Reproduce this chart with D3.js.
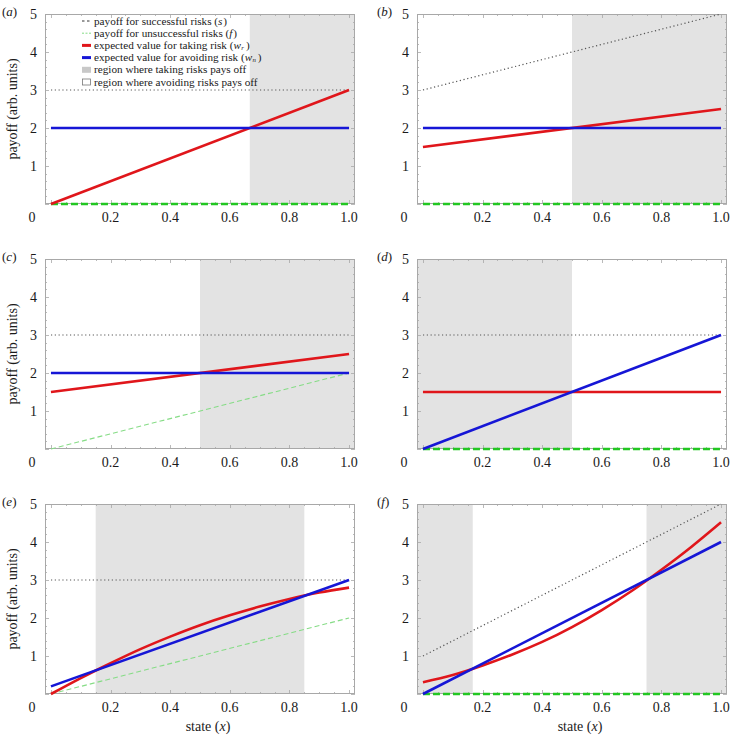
<!DOCTYPE html>
<html><head><meta charset="utf-8">
<script src="https://cdn.jsdelivr.net/npm/d3@7"></script>
<style>body{margin:0;background:#fff}svg{display:block}text{font-family:"Times New Roman","Liberation Serif",Times,serif;fill:#1a1a1a}</style>
</head><body><svg id="c" width="730" height="737"></svg>
<script>
// ---------- data ----------
const panelIds = ["a","b","c","d","e","f"];
const xLine = [0, 1];
const xCurve = [0,0.1,0.2,0.3,0.4,0.5,0.6,0.7,0.8,0.9,1.0];
const xTickLabels = ["0.2","0.4","0.6","0.8","1.0"];
const xTickValues = [0.2,0.4,0.6,0.8,1.0];
const yTickValues = [1,2,3,4,5];

// payoff for successful risks (s), at x = 0 and x = 1
const sA=[3,3], sB=[3,5], sC=[3,3], sD=[3,3], sE=[3,3], sF=[1,5];
// payoff for unsuccessful risks (f)
const fA=[0,0], fB=[0,0], fC=[0,2], fD=[0,0], fE=[0,2], fF=[0,0];
// expected value for avoiding risk (wn)
const wnA=[2,2], wnB=[2,2], wnC=[2,2], wnD=[0,3], wnE=[0.2,3.0], wnF=[0,4];
// expected value for taking risk (wr)
const wrA=[0,3], wrB=[1.5,2.5], wrC=[1.5,2.5], wrD=[1.5,1.5];
const wrE=[0,0.42,0.81,1.18,1.51,1.81,2.07,2.30,2.50,2.67,2.80];
const wrF=[0.31,0.50,0.75,1.04,1.37,1.76,2.21,2.71,3.27,3.87,4.52];
// regions where taking risks pays off
const shadeA=[[0.667, Infinity]];
const shadeB=[[0.5, Infinity]];
const shadeC=[[0.5, Infinity]];
const shadeD=[[-Infinity, 0.5]];
const shadeE=[[0.15, 0.85]];
const shadeF=[[-Infinity, 0.167],[0.75, Infinity]];

const legendItems = [
  {kind:"s", pre:"payoff for successful risks (", it:"s", sub:"", post:")"},
  {kind:"f", pre:"payoff for unsuccessful risks (", it:"f", sub:"", post:")"},
  {kind:"wr", pre:"expected value for taking risk (", it:"w", sub:"r", post:")"},
  {kind:"wn", pre:"expected value for avoiding risk (", it:"w", sub:"n", post:")"},
  {kind:"shade", pre:"region where taking risks pays off", it:"", sub:"", post:""},
  {kind:"empty", pre:"region where avoiding risks pays off", it:"", sub:"", post:""}
];

const panels = [
  {id:"a", s:sA, f:fA, wn:wnA, wrX:xLine, wr:wrA, shade:shadeA},
  {id:"b", s:sB, f:fB, wn:wnB, wrX:xLine, wr:wrB, shade:shadeB},
  {id:"c", s:sC, f:fC, wn:wnC, wrX:xLine, wr:wrC, shade:shadeC},
  {id:"d", s:sD, f:fD, wn:wnD, wrX:xLine, wr:wrD, shade:shadeD},
  {id:"e", s:sE, f:fE, wn:wnE, wrX:xCurve, wr:wrE, shade:shadeE},
  {id:"f", s:sF, f:fF, wn:wnF, wrX:xCurve, wr:wrF, shade:shadeF}
];

// ---------- layout ----------
const W = 310, H = 190;
const colX = [45, 417];
const rowY = [14, 259, 504];
const COL = {s:"#555", fFlat:"#22c722", fSlope:"#86dc86", wr:"#e0161b", wn:"#1616d6", shade:"#e3e3e3", frame:"#a8a8a8"};

const svg = d3.select("#c");

panels.forEach((p, i) => {
  const col = i % 2, row = Math.floor(i / 2);
  const x0 = colX[col], y0 = rowY[row];
  const g = svg.append("g").attr("transform", `translate(${x0},${y0})`);
  const x = d3.scaleLinear().domain([-0.02, 1.02]).range([0, W]);
  const y = d3.scaleLinear().domain([0, 5]).range([H, 0]);
  const [dmin, dmax] = x.domain();

  // shading
  g.selectAll("rect.shade").data(p.shade).join("rect")
    .attr("x", d => x(Math.max(d[0], dmin)))
    .attr("width", d => x(Math.min(d[1], dmax)) - x(Math.max(d[0], dmin)))
    .attr("y", 0).attr("height", H).attr("fill", COL.shade);

  // frame ticks (inward, all sides)
  const tg = g.append("g").attr("stroke", COL.frame).attr("stroke-width", 0.8);
  d3.range(0, 21).forEach(k => {
    const v = k * 0.05, major = (k % 4 === 0);
    const L = major ? 4 : 2;
    const xx = Math.round(x(v)) + 0.5;
    tg.append("line").attr("x1", xx).attr("x2", xx).attr("y1", H).attr("y2", H - L);
    tg.append("line").attr("x1", xx).attr("x2", xx).attr("y1", 0).attr("y2", L);
  });
  d3.range(0, 26).forEach(k => {
    const v = k * 0.2, major = (k % 5 === 0);
    const L = major ? 4 : 2;
    const yy = Math.round(y(v)) + 0.5;
    tg.append("line").attr("x1", 0).attr("x2", L).attr("y1", yy).attr("y2", yy);
    tg.append("line").attr("x1", W).attr("x2", W - L).attr("y1", yy).attr("y2", yy);
  });
  g.append("rect").attr("x", 0.5).attr("y", 0.5).attr("width", W - 1).attr("height", H - 1)
    .attr("fill", "none").attr("stroke", COL.frame).attr("stroke-width", 1);

  const line = d3.line().x(d => x(d[0])).y(d => y(d[1]));
  const curve = d3.line().x(d => x(d[0])).y(d => y(d[1])).curve(d3.curveNatural);

  // s (dotted)
  g.append("path").attr("d", line(xLine.map((v, k) => [v, p.s[k]])))
    .attr("fill", "none").attr("stroke", COL.s).attr("stroke-width", 1.2).attr("stroke-dasharray", "1.2,2.6");
  // f (green dashed)
  const flat = p.f.every(v => v === 0);
  g.append("path").attr("d", line(xLine.map((v, k) => [v, p.f[k]])))
    .attr("fill", "none").attr("stroke", flat ? COL.fFlat : COL.fSlope)
    .attr("stroke-width", flat ? 2.6 : 1.1).attr("stroke-dasharray", flat ? "7,3" : "5,3");
  // wr (red)
  g.append("path").attr("d", (p.wrX.length > 2 ? curve : line)(p.wrX.map((v, k) => [v, p.wr[k]])))
    .attr("fill", "none").attr("stroke", COL.wr).attr("stroke-width", 2.6);
  // wn (blue)
  g.append("path").attr("d", line(xLine.map((v, k) => [v, p.wn[k]])))
    .attr("fill", "none").attr("stroke", COL.wn).attr("stroke-width", 2.6);

  // tick labels
  g.selectAll("text.xt").data(xTickValues).join("text")
    .attr("x", d => x(d)).attr("y", H + 18).attr("text-anchor", "middle")
    .attr("font-size", 14).text((d, k) => xTickLabels[k]);
  g.append("text").attr("x", -13).attr("y", H + 18).attr("text-anchor", "middle").attr("font-size", 14).text("0");
  g.selectAll("text.yt").data(yTickValues).join("text")
    .attr("x", -8).attr("y", d => y(d) + 5).attr("text-anchor", "end")
    .attr("font-size", 14).text(d => d);

  // panel label
  const pl = svg.append("text").attr("x", col === 0 ? 2 : 377).attr("y", y0 + 2).attr("font-size", 13);
  pl.append("tspan").text("(");
  pl.append("tspan").attr("font-style", "italic").text(p.id);
  pl.append("tspan").text(")");

  if (col === 0) {
    svg.append("text").attr("transform", `translate(17,${y0 + H / 2}) rotate(-90)`)
      .attr("text-anchor", "middle").attr("font-size", 14).text("payoff (arb. units)");
  }
  if (row === 2) {
    const t = g.append("text").attr("x", x(0.5) + 8).attr("y", H + 37).attr("text-anchor", "middle").attr("font-size", 14);
    t.append("tspan").text("state (");
    t.append("tspan").attr("font-style", "italic").text("x");
    t.append("tspan").text(")");
  }

  // legend (panel a)
  if (p.id === "a") {
    const lg = g.append("g").attr("transform", "translate(37,7)");
    legendItems.forEach((it, k) => {
      const yy = k * 12.2;
      const sx = 0, ex = 9;
      if (it.kind === "s") lg.append("line").attr("x1", sx).attr("x2", ex).attr("y1", yy).attr("y2", yy)
        .attr("stroke", "#333").attr("stroke-width", 1).attr("stroke-dasharray", "2.5,2.5");
      if (it.kind === "f") lg.append("line").attr("x1", sx).attr("x2", ex).attr("y1", yy).attr("y2", yy)
        .attr("stroke", COL.fSlope).attr("stroke-width", 1).attr("stroke-dasharray", "2,1.5");
      if (it.kind === "wr") lg.append("line").attr("x1", sx).attr("x2", ex).attr("y1", yy).attr("y2", yy)
        .attr("stroke", COL.wr).attr("stroke-width", 3);
      if (it.kind === "wn") lg.append("line").attr("x1", sx).attr("x2", ex).attr("y1", yy).attr("y2", yy)
        .attr("stroke", COL.wn).attr("stroke-width", 3);
      if (it.kind === "shade") lg.append("rect").attr("x", sx).attr("y", yy - 3).attr("width", 9).attr("height", 6)
        .attr("fill", "#c8c8c8");
      if (it.kind === "empty") lg.append("rect").attr("x", sx + 0.5).attr("y", yy - 3).attr("width", 8).attr("height", 6)
        .attr("fill", "#fff").attr("stroke", "#777").attr("stroke-width", 0.8);
      const t = lg.append("text").attr("x", 12).attr("y", yy + 3.5).attr("font-size", 11.2);
      t.append("tspan").text(it.pre);
      if (it.it) t.append("tspan").attr("font-style", "italic").text(it.it);
      if (it.sub) t.append("tspan").attr("font-style", "italic").attr("font-size", 6.8).attr("dx", 0.3).attr("dy", 1).text(it.sub);
      if (it.post) t.append("tspan").attr("dx", it.sub ? 2 : 0.8).attr("dy", it.sub ? -1 : 0).text(it.post);
    });
  }
});
</script></body></html>
